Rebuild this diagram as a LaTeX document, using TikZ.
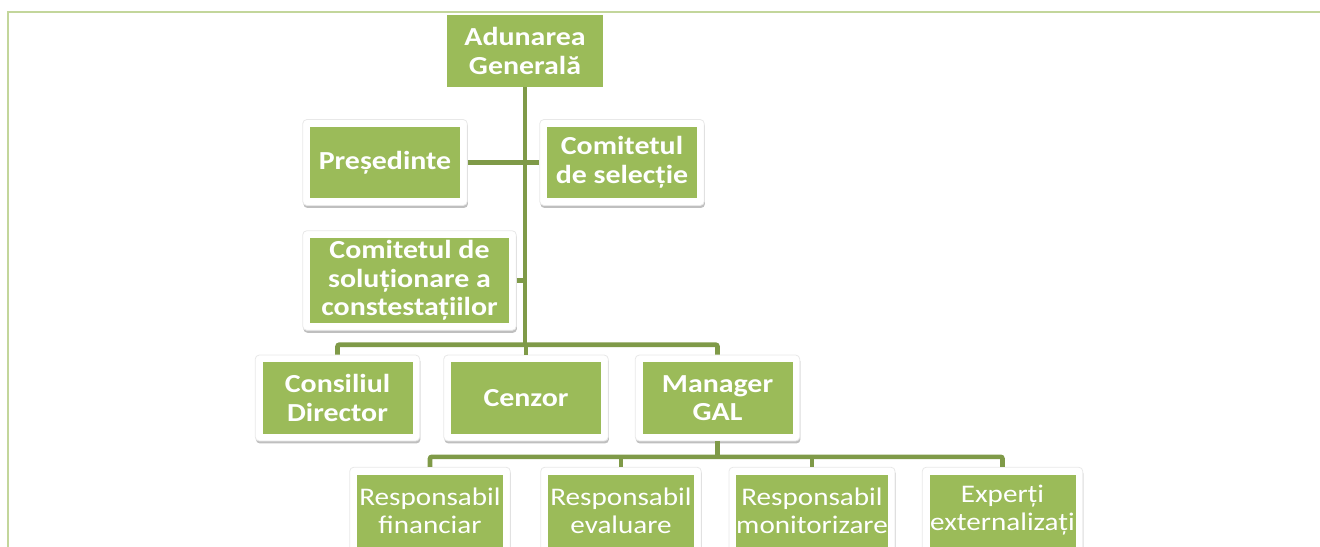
\documentclass[tikz,border=0pt]{standalone}
\usepackage{fontspec}
\setmainfont{Carlito}[FakeStretch=1.15]
\usetikzlibrary{positioning,shadows,fit,backgrounds}
\definecolor{galgreen}{HTML}{9BBB59}
\definecolor{galline}{HTML}{7F9A48}
\definecolor{galframe}{HTML}{C3D69B}

\begin{document}
\begin{tikzpicture}[x=0.75pt,y=-0.75pt,
    box/.style={fill=galgreen, text=white, align=center, inner sep=0pt,
        font=\bfseries\fontsize{19.5}{21.5}\selectfont,
        minimum width=112.5pt, minimum height=53.5pt},
    subbox/.style={box, font=\fontsize{19}{21}\selectfont,
        minimum width=109.5pt, minimum height=54pt},
    cardframe/.style={fill=white, draw=black!9, line width=0.6pt,
        rounded corners=3pt, inner sep=5.25pt,
        drop shadow={shadow xshift=0.5pt, shadow yshift=-1.9pt,
            fill=black, opacity=0.25}},
    conn/.style={draw=galline, line width=3.5pt, rounded corners=1.5pt}]
    \useasboundingbox (0,0) rectangle (1320,546);
    % Outer frame
    \draw[galframe, line width=1.5pt] (8,570) |- (1340,12);

    % Boxes
    \node[box, minimum width=117pt, minimum height=54pt] (adun) at (525,51) {Adunarea\\Generală};
    \node[box] (pres) at (385,162.5) {Președinte};
    \node[box] (sel) at (622,162.5) {Comitetul\\de selecție};
    \node[box, minimum width=149.25pt, minimum height=63.75pt] (sol) at (409.5,280.5)
        {Comitetul de\\soluționare a\\constestațiilor};
    \node[box] (cons) at (337.5,398) {Consiliul\\Director};
    \node[box] (cenz) at (526,398) {Cenzor};
    \node[box] (man) at (717.5,398) {Manager\\GAL};
    \node[subbox] (fin) at (430,510.5) {Responsabil\\financiar};
    \node[subbox] (eval) at (621,510.5) {Responsabil\\evaluare};
    \node[subbox] (mon) at (812,510.5) {Responsabil\\monitorizare};
    \node[subbox] (exp) at (1002.5,510.5) {Experți\\externalizați};

    % White cards behind the boxes
    \begin{scope}[on background layer]
        \foreach \n in {pres,sel,sol,cons,cenz,man,fin,eval,mon,exp}
            \node[cardframe, fit=(\n)] (\n-f) {};
    \end{scope}

    % Lines
    \draw[conn] (cons-f.north) -- ++(0,-10) coordinate (j1) -| (man-f.north);
    \draw[conn] (adun.south) -- (adun.south |- j1);
    \draw[conn] (cenz-f.north) -- (cenz-f.north |- j1);
    \draw[conn] (pres-f.east) -- (sel-f.west);
    \draw[conn] (sol-f.east) -- (sol-f.east -| adun.south);
    \draw[conn] (fin-f.north) -- ++(0,-10) coordinate (j2) -| (exp-f.north);
    \draw[conn] (man-f.south) -- (man-f.south |- j2);
    \draw[conn] (eval-f.north) -- (eval-f.north |- j2);
    \draw[conn] (mon-f.north) -- (mon-f.north |- j2);
\end{tikzpicture}
\end{document}
